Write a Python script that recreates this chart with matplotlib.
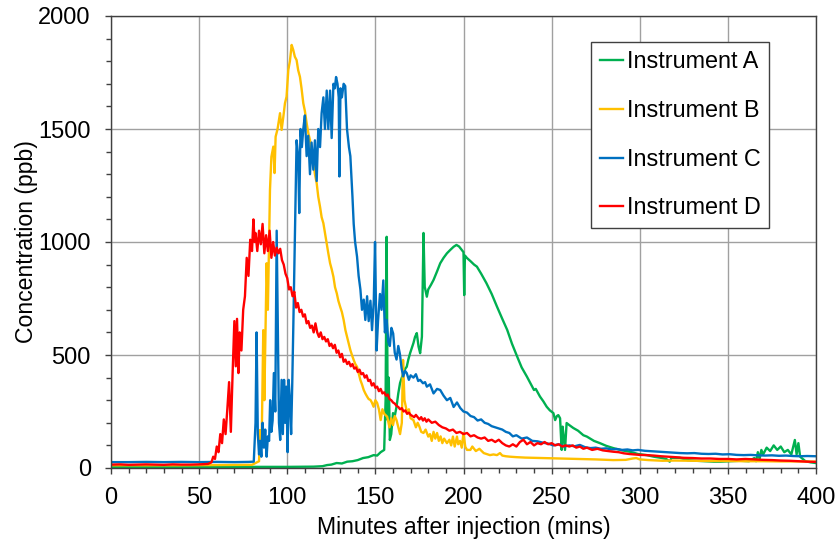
import matplotlib
matplotlib.use("Agg")
import matplotlib.pyplot as plt
from matplotlib.ticker import MultipleLocator

plt.rcParams['font.family'] = ['Liberation Sans', 'DejaVu Sans']

# ---------------- data (minutes, ppb) ----------------
a_pts = [(0,5),(20,5),(40,5),(60,5),(80,5),(100,5),(115,6),(120,8),(122.6,13),(125,15),(128,22),(131,20),
         (134,28),(137,30),(140,35),(143,44),(146,48),(149,57),(151,55),(153,70),(155,80),(155.8,300),
         (156.4,1023),(157,212),(157.6,400),(158.2,124),(159,150),(160,243),(161,230),(162,271),(163,330),
         (164,376),(165,400),(166,420),(167,440),(167.8,448),(168.7,480),(169.7,508),(170.6,530),(171.6,553),
         (172.5,580),(173.5,597),(174.5,537),(175.4,508),(176.4,581),(177.3,1040),(178,802),(179.2,758),
         (180,790),(181.5,810),(183,832),(185,870),(186.8,906),(188.7,930),(190.6,950),(192.5,965),
         (194.4,979),(196,987),(197.5,980),(199,965),(200,955),(200.4,765),(200.8,940),(202,929),(204,915),
         (206,900),(207.6,891),(210,860),(213,818),(216,770),(219,714),(222,660),(224.8,611),(227.5,550),
         (230.5,492),(233,445),(236,404),(239,360),(240,345),(241,350),(243.4,316),(245.3,295),(247.2,271),
         (249,255),(251,243),(252,212),(253,230),(253.8,234),(254.8,220),(255.7,80),(256.2,183),(256.7,150),
         (257.6,80),(258.5,199),(260,190),(262.3,177),(265,165),(268,145),(270,139),(274,120),(277.4,110),
         (281,98),(285,88),(290,78),(294.4,72),(299,62),(303.9,57),(308,50),(312,45),(315,40),(317,28),
         (318,45),(322.8,45),(327,35),(332,32),(337,30),(342,28),(346,28),(352,30),(357,32),(362,30),
         (365,44),(366,30),(367,70),(368,40),(369,80),(370,60),(372,90),(374,75),(376,100),(378,80),
         (380,95),(382,70),(384,80),(386,60),(388,124),(389,60),(390,110),(391,50),(394,30),(397,25),(400,22)]

b_pts = [(0,12),(20,12),(40,12),(60,13),(80,14),(84,30),(84.5,168),(85.5,120),(86.4,610),(87,300),(88.3,906),
         (89,700),(90.2,1230),(91,1377),(92.1,1422),(92.8,1305),(93.4,1466),(94.5,1500),(95.9,1570),
         (96.8,1496),(97.8,1555),(98.7,1614),(99.6,1643),(100.6,1761),(101.5,1800),(102.5,1872),(103.4,1850),
         (104.3,1820),(105.3,1805),(106.2,1760),(107.2,1731),(108.1,1680),(109.1,1614),(110,1580),(111,1526),
         (112,1480),(112.9,1451),(113.8,1400),(114.8,1349),(115.7,1300),(116.7,1260),(117.6,1200),
         (118.6,1156),(119.5,1110),(120.5,1083),(121.4,1040),(122.4,995),(123.3,950),(124.3,906),(125.2,880),
         (126.2,846),(127.1,800),(128.1,773),(129,740),(130,714),(131,690),(132,655),(133,610),(133.9,581),
         (134.9,550),(135.8,522),(136.7,500),(137.7,478),(138.6,460),(139.6,448),(140.5,420),(141.5,389),
         (142.4,370),(143.4,345),(144.3,330),(145.3,316),(146.2,305),(147.2,301),(148,290),(149,271),(150,300),
         (151,288),(152,260),(153,212),(154,260),(155,240),(156.7,227),(158,180),(159,220),(160,190),(161,230),
         (162,212),(163,180),(164,150),(165,200),(165.7,478),(166.5,300),(167.3,271),(168,240),(169,260),
         (170,220),(171.6,212),(173,180),(174,200),(175,183),(176,160),(177.3,155),(178.5,170),(180,139),
         (181,150),(182,120),(183,160),(184,130),(185,155),(186,120),(187,140),(188,110),(189,130),(190.6,110),
         (192,125),(193,100),(194,139),(195,95),(196.3,139),(197,105),(198,120),(199,90),(200,155),(201,94),
         (202,80),(203.9,80),(205,95),(207,75),(209,85),(211.5,66),(213,62),(215,57),(217,60),(219,57),
         (220.7,66),(222,55),(224,52),(226.4,50),(230,48),(235,46),(240,45),(247,44),(255,42),(266,40),
         (275,38),(285,35),(292,36),(296,42),(298,44),(300,38),(305,35),(313,32),(320,33),(330,32),(340,31),
         (350,31),(360,30),(370,30),(380,29),(390,29),(400,28)]

c_pts = [(0,26),(10,26),(20,27),(30,26),(40,27),(50,26),(60,27),(70,26),(78,27),(81,28),(82,200),(82.6,600),
         (83.3,150),(84,60),(84.6,120),(85.3,50),(86,200),(86.8,90),(87.5,170),(88.3,50),(89,140),(89.7,120),
         (90.3,300),(91,160),(91.7,210),(92.4,420),(93.2,250),(94,1050),(94.7,600),(95.3,200),(96,124),
         (96.8,390),(97.5,150),(98.2,390),(98.8,200),(99.5,360),(100.2,70),(100.8,390),(101.5,300),(102.2,150),
         (102.8,360),(103.4,610),(104.4,1053),(105.3,1450),(106.2,1380),(106.8,1128),(107.5,1500),(108.3,1420),
         (109.1,1500),(110,1560),(111,1380),(111.9,1470),(112.9,1300),(113.8,1440),(114.8,1320),(115.7,1450),
         (116.7,1270),(117.6,1500),(118.6,1420),(119.5,1570),(120.5,1640),(121.4,1500),(122.4,1670),
         (123.3,1500),(124.3,1670),(125.2,1460),(126.2,1700),(127,1680),(127.7,1730),(128.5,1700),(129.2,1640),
         (129.6,1290),(130.2,1680),(131,1640),(132,1700),(132.9,1690),(133.9,1500),(135,1420),(135.8,1380),
         (137,1200),(137.7,1080),(138.5,1000),(139.6,935),(140.5,850),(141.5,790),(142.4,700),(143.4,745),
         (144.3,655),(145.3,760),(146.2,650),(147.2,740),(148.1,610),(149.1,740),(149.8,1000),(150.7,520),
         (151.5,650),(152.6,770),(153.5,700),(154.5,830),(155.4,600),(156.4,655),(157.3,560),(158.2,540),
         (159.1,620),(160.1,595),(161,510),(162,480),(163,540),(163.9,505),(164.9,440),(165.8,405),(166.8,430),
         (167.8,420),(169,390),(170,410),(171.6,400),(173,415),(174.3,385),(175.4,390),(177,375),(178.2,380),
         (179.2,360),(181,370),(183,330),(185,350),(186.8,345),(188.7,320),(190.6,300),(192.5,310),(194.4,270),
         (196.3,290),(198.2,265),(200,250),(202,245),(204,230),(206,225),(208,210),(210,215),(212,200),
         (214,195),(216,185),(218,180),(220,175),(222,170),(224,160),(226,155),(228,140),(230,145),(233,130),
         (236,135),(239,120),(242,118),(245,112),(248,108),(251,100),(254,105),(257,95),(260,100),(263,96),
         (266,102),(269,92),(272,88),(275,90),(278,85),(281,87),(284,82),(287,84),(290,80),(293,82),(296,78),
         (299,80),(303,76),(307,74),(311,72),(315,70),(319,68),(323,66),(327,65),(331,66),(335,63),(339,62),
         (343,63),(347,60),(351,61),(355,58),(359,57),(363,58),(367,56),(371,55),(375,56),(379,54),(383,55),
         (387,53),(391,52),(395,53),(400,52)]

d_pts = [(0,15),(5,16),(10,14),(15,15),(20,16),(25,15),(30,14),(35,16),(40,15),(45,15),(50,16),(55,18),(57,25),
         (58,50),(59,40),(60,95),(61,70),(62,150),(63,110),(64,215),(65,150),(66,260),(67,380),(68,160),(69,420),
         (70,650),(70.8,450),(71.5,660),(72.3,420),(73,600),(74,520),(75,700),(76,760),(77,930),(78,850),
         (79,1010),(80,960),(80.8,1100),(81.5,1000),(82,1040),(83,960),(84,1050),(85,990),(86,1080),(87,950),
         (88,1030),(89,960),(90,1050),(91,930),(92,1000),(93,940),(94,975),(95,950),(96,970),(97,920),(98,900),
         (99,860),(100,840),(101,790),(102,800),(103,760),(104,780),(105,710),(106,730),(107,690),(108,700),
         (109,670),(110,680),(111,640),(112,650),(113,620),(114,630),(115,600),(116,640),(117,600),(118,580),
         (119,600),(120,570),(121,580),(122,560),(123,570),(124,540),(125,550),(126,530),(127,545),(128,510),
         (129,520),(130,490),(131,505),(132,470),(133,480),(134,460),(135,470),(136,450),(137,460),(138,440),
         (139,445),(140,425),(141,435),(142,415),(143,420),(144,400),(145,410),(146,385),(147,390),(148,365),
         (149,375),(150,355),(151,360),(152,340),(153,350),(154,330),(155,335),(156,320),(157,325),(158,305),
         (159,300),(160,290),(161,285),(162,275),(163,270),(164,260),(165,265),(166,250),(167,255),(168,240),
         (169,245),(170,235),(171,230),(172,225),(173,235),(174,225),(175,215),(176,225),(177,210),(178,220),
         (179,205),(180,215),(182,200),(184,205),(186,190),(188,180),(190,175),(192,165),(194,170),(196,155),
         (198,160),(200,150),(202,155),(204,140),(206,145),(208,135),(210,130),(212,135),(214,120),(216,125),
         (218,115),(220,125),(222,110),(224,100),(226,95),(228,105),(230,95),(232,115),(234,125),(236,105),
         (238,115),(240,100),(242,110),(244,105),(246,115),(248,105),(250,110),(252,100),(254,105),(256,95),
         (258,100),(260,95),(262,100),(264,90),(266,95),(268,85),(270,90),(273,80),(276,85),(279,78),(282,75),
         (285,72),(288,70),(291,65),(294,62),(297,60),(300,58),(304,57),(308,55),(312,52),(316,50),(320,48),
         (325,45),(330,44),(335,42),(340,42),(345,40),(350,40),(355,38),(360,40),(365,38),(370,36),(375,35),
         (380,33),(385,32),(390,30),(395,28),(400,27)]

series_names = ["Instrument A", "Instrument B", "Instrument C", "Instrument D"]
series_colors = ["#00B050", "#FFC000", "#0070C0", "#FF0000"]
series_pts = [a_pts, b_pts, c_pts, d_pts]

x_ticks = [0, 50, 100, 150, 200, 250, 300, 350, 400]
y_ticks = [0, 500, 1000, 1500, 2000]

FS = 17

# ---------------- figure ----------------
fig = plt.figure(figsize=(8.39, 5.42), dpi=100)
ax = fig.add_axes([111/839, 74/542, 705/839, 452/542])

for name, col, pts in zip(series_names, series_colors, series_pts):
    xs = [p[0] for p in pts]
    ys = [p[1] for p in pts]
    ax.plot(xs, ys, color=col, lw=1.7, label=name, solid_joinstyle='round')

ax.set_xlim(0, 400)
ax.set_ylim(0, 2000)
ax.set_xticks(x_ticks)
ax.set_yticks(y_ticks)
ax.xaxis.set_minor_locator(MultipleLocator(10))
ax.yaxis.set_minor_locator(MultipleLocator(100))
ax.grid(True, which='major', color='#A0A0A0', lw=1.0)
ax.set_axisbelow(True)

for s in ax.spines.values():
    s.set_color('#404040')
    s.set_linewidth(1.0)

ax.tick_params(which='major', direction='out', length=4.5, width=1, color='#404040', labelsize=FS)
ax.tick_params(which='minor', direction='out', length=3.8, width=1, color='#404040')
ax.tick_params(axis='x', which='major', pad=9)
ax.tick_params(axis='y', which='major', pad=10)

ax.set_xlabel("Minutes after injection (mins)", fontsize=16.6, labelpad=5.5)
ax.set_ylabel("Concentration (ppb)", fontsize=16.6, labelpad=0.5)

leg = ax.legend(loc='upper right', bbox_to_anchor=(769/839, 1 - 42/542), bbox_transform=fig.transFigure,
                fontsize=16.8, frameon=True, fancybox=False, framealpha=1, edgecolor='#404040',
                handlelength=1.0, handletextpad=0.17, labelspacing=1.1, borderpad=0.36, borderaxespad=0)
leg.get_frame().set_linewidth(1.0)

fig.savefig("out.png", dpi=100)
